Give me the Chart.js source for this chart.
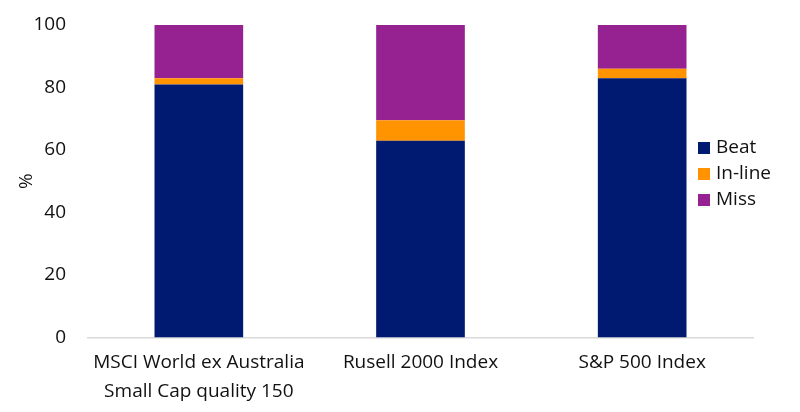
<!DOCTYPE html>
<html>
<head>
<meta charset="utf-8">
<script src="https://cdn.jsdelivr.net/npm/chart.js@4.4.1/dist/chart.umd.min.js"></script>
<style>
  html, body { margin: 0; padding: 0; background: #fff; }
  #wrap { width: 800px; height: 412px; }
</style>
</head>
<body>
<div id="wrap"><canvas id="chart"></canvas></div>
<script>
// data
const categories = [
  ['MSCI World ex Australia', 'Small Cap quality 150'],
  'Rusell 2000 Index',
  'S&P 500 Index'
];
const beatValues = [81, 63, 83];
const inlineValues = [2, 6.5, 3];
const missValues = [17, 30.5, 14];
const yTicks = [0, 20, 40, 60, 80, 100];

const COLORS = {
  beat: '#001a72',
  inline: '#ff9300',
  miss: '#952290',
  text: '#111111',
  axis: '#d9d9d9'
};

const FONT = '"Open Sans", "Noto Sans", sans-serif';

// legend drawn over the right edge of the plot, like the original
const sideLegend = {
  id: 'sideLegend',
  afterDraw(chart) {
    const ctx = chart.ctx;
    const x = 698;
    let y = 148;
    ctx.save();
    ctx.font = '19px ' + FONT;
    ctx.textBaseline = 'middle';
    ctx.textAlign = 'left';
    chart.data.datasets.forEach(ds => {
      ctx.fillStyle = ds.backgroundColor;
      ctx.fillRect(x, y - 6, 12, 12);
      ctx.fillStyle = COLORS.text;
      ctx.fillText(ds.label, x + 18, y);
      y += 26;
    });
    ctx.restore();
  }
};

new Chart(document.getElementById('chart'), {
  type: 'bar',
  data: {
    labels: categories,
    datasets: [
      { label: 'Beat', data: beatValues, backgroundColor: COLORS.beat },
      { label: 'In-line', data: inlineValues, backgroundColor: COLORS.inline },
      { label: 'Miss', data: missValues, backgroundColor: COLORS.miss }
    ]
  },
  options: {
    responsive: true,
    maintainAspectRatio: false,
    animation: false,
    layout: { padding: { top: 25, right: 47, bottom: 0, left: 0 } },
    datasets: {
      bar: { barPercentage: 1, categoryPercentage: 0.4, borderWidth: 0 }
    },
    plugins: {
      legend: { display: false },
      tooltip: { enabled: false }
    },
    scales: {
      x: {
        stacked: true,
        grid: { display: false, drawTicks: false },
        border: { color: COLORS.axis, width: 1.5 },
        ticks: {
          color: COLORS.text,
          font: { family: FONT, size: 19, lineHeight: 1.5 },
          padding: 11,
          maxRotation: 0,
          autoSkip: false
        },
        afterFit(scale) { scale.height = 74.5; }
      },
      y: {
        stacked: true,
        min: 0,
        max: 100,
        afterBuildTicks(scale) { scale.ticks = yTicks.map(v => ({ value: v })); },
        // tick length (not padding) gives the label gap, so the top stays put
        grid: { display: false, drawTicks: true, tickLength: 22 },
        border: { display: false },
        ticks: {
          color: COLORS.text,
          font: { family: FONT, size: 19 },
          padding: 0
        },
        title: {
          display: true,
          text: '%',
          color: COLORS.text,
          font: { family: FONT, size: 19 },
          padding: { top: 15, bottom: 0 }
        },
        afterFit(scale) { scale.width = 88; }
      }
    }
  },
  plugins: [sideLegend]
});
</script>
</body>
</html>
